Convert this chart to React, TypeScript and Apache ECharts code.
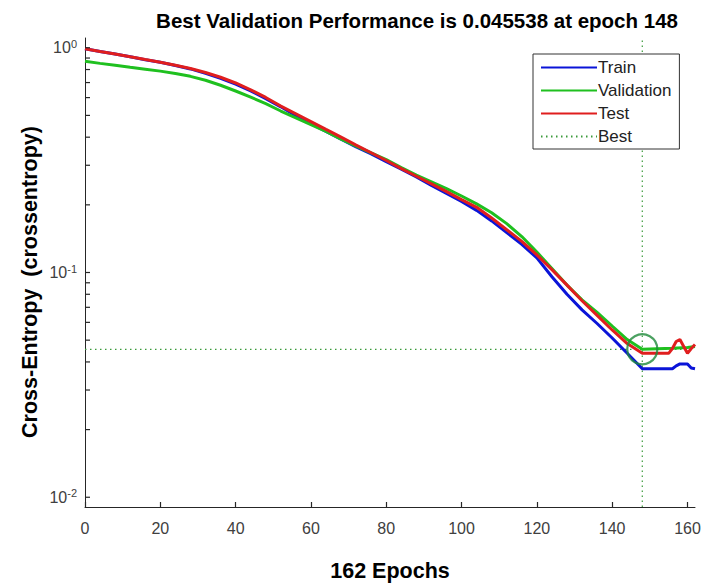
import React, { useEffect, useRef } from "react";
import * as echarts from "echarts";

const titleText = "Best Validation Performance is 0.045538 at epoch 148";
const xAxisTitle = "162 Epochs";
const yAxisTitle = "Cross-Entropy  (crossentropy)";

const xTicks = [0, 20, 40, 60, 80, 100, 120, 140, 160];
const yMajorTicks = [0.01, 0.1, 1];
const yTickValues = [
  0.01, 0.02, 0.03, 0.04, 0.05, 0.06, 0.07, 0.08, 0.09,
  0.1, 0.2, 0.3, 0.4, 0.5, 0.6, 0.7, 0.8, 0.9, 1,
];

const trainEpochs = [
  0, 4, 8, 12, 16, 20, 24, 28, 32, 36, 40, 44, 48, 52, 56, 60, 64, 68, 72, 76,
  80, 84, 88, 92, 96, 100, 104, 108, 112, 116, 120, 124, 128, 132, 136, 140, 144,
  148, 152, 156, 157, 158, 160, 161, 162,
];
const trainValues = [
  0.99, 0.963, 0.937, 0.911, 0.885, 0.862, 0.834, 0.805, 0.769, 0.731, 0.689,
  0.643, 0.594, 0.546, 0.498, 0.459, 0.424, 0.392, 0.362, 0.337, 0.311, 0.288,
  0.266, 0.244, 0.225, 0.207, 0.189, 0.1696, 0.1505, 0.1335, 0.1161, 0.0958,
  0.0800, 0.0682, 0.0593, 0.0511, 0.0437, 0.0373, 0.0373, 0.0373, 0.0384,
  0.0392, 0.0392, 0.0376, 0.0373,
];

const validationEpochs = [
  0, 4, 8, 12, 16, 20, 24, 28, 32, 36, 40, 44, 48, 52, 56, 60, 64, 68, 72, 76,
  80, 84, 88, 92, 96, 100, 104, 108, 112, 116, 120, 124, 128, 132, 136, 140, 144,
  148, 152, 156, 160, 162,
];
const validationValues = [
  0.87, 0.852, 0.836, 0.819, 0.803, 0.787, 0.768, 0.746, 0.717, 0.681, 0.642,
  0.603, 0.564, 0.523, 0.488, 0.455, 0.424, 0.392, 0.365, 0.341, 0.318, 0.293,
  0.271, 0.253, 0.236, 0.219, 0.202, 0.1845, 0.1650, 0.1445, 0.1233, 0.1041,
  0.0879, 0.0756, 0.0665, 0.0578, 0.0503, 0.045538, 0.0458, 0.046, 0.0464,
  0.0468,
];

const testEpochs = [
  0, 4, 8, 12, 16, 20, 24, 28, 32, 36, 40, 44, 48, 52, 56, 60, 64, 68, 72, 76,
  80, 84, 88, 92, 96, 100, 104, 108, 112, 116, 120, 124, 128, 132, 136, 140, 144,
  148, 152, 155, 156, 157, 158, 159, 160, 161, 162,
];
const testValues = [
  0.99, 0.963, 0.937, 0.911, 0.886, 0.862, 0.836, 0.808, 0.776, 0.739, 0.697,
  0.650, 0.601, 0.55, 0.508, 0.469, 0.433, 0.4, 0.369, 0.341, 0.315, 0.29,
  0.268, 0.248, 0.229, 0.211, 0.195, 0.1747, 0.155, 0.1376, 0.1197, 0.103,
  0.0879, 0.0749, 0.0645, 0.0555, 0.0483, 0.0437, 0.0437, 0.0437, 0.0459,
  0.0493, 0.0503, 0.0469, 0.0437, 0.0459, 0.0478,
];

const bestEpoch = 148;
const bestValue = 0.045538;
const xMin = 0;
const xMax = 162;
const yMin = 0.00905;
const yMax = 1.105;

const pairs = (xs: number[], ys: number[]) => xs.map((x, i) => [x, ys[i]]);

const FONT = "'Liberation Sans', Arial, Helvetica, sans-serif";
const AXIS_COLOR = "#262626";
const LABEL_COLOR = "#404040";

export default function App() {
  const ref = useRef<HTMLDivElement>(null);

  useEffect(() => {
    if (!ref.current) return;
    const chart = echarts.init(ref.current, null, { renderer: "svg" });
    const supMap: Record<string, string> = { "0.01": "-2", "0.1": "-1", "1": "0" };
    chart.setOption({
      animation: false,
      backgroundColor: "#ffffff",
      textStyle: { fontFamily: FONT },
      grid: { left: 85, right: 11, top: 38, bottom: 67, containLabel: false },
      graphic: [
        {
          type: "text",
          x: 417,
          y: 20,
          style: {
            text: titleText,
            fill: "#000000",
            font: `bold 20.5px ${FONT}`,
            align: "center",
            verticalAlign: "middle",
            textAlign: "center",
            textVerticalAlign: "middle",
          },
        },
        {
          type: "text",
          x: 30,
          y: 282,
          rotation: Math.PI / 2,
          style: {
            text: yAxisTitle,
            fill: "#000000",
            font: `bold 21.5px ${FONT}`,
            align: "center",
            verticalAlign: "middle",
            textAlign: "center",
            textVerticalAlign: "middle",
          },
        },
      ],
      legend: {
        orient: "vertical",
        left: 533,
        top: 54,
        padding: [5, 8, 4, 7],
        itemWidth: 56,
        itemHeight: 14,
        itemGap: 6,
        borderColor: "#333333",
        borderWidth: 1,
        borderRadius: 0,
        backgroundColor: "#ffffff",
        itemStyle: { opacity: 0, color: "rgba(0,0,0,0)", borderWidth: 0 },
        data: ["Train", "Validation", "Test", "Best"],
        textStyle: { fontSize: 17, color: "#222222", fontFamily: FONT, padding: [0, 0, 0, -4] },
      },
      xAxis: {
        type: "value",
        min: xMin,
        max: xMax,
        name: xAxisTitle,
        nameLocation: "middle",
        nameGap: 53,
        nameTextStyle: { fontSize: 21.5, fontWeight: "bold", color: "#000000", fontFamily: FONT },
        axisLine: { show: true, lineStyle: { color: AXIS_COLOR, width: 1 } },
        axisTick: { show: true, inside: true, length: 5, customValues: xTicks, lineStyle: { color: AXIS_COLOR, width: 1.2 } },
        axisLabel: { customValues: xTicks, fontSize: 16, color: LABEL_COLOR, margin: 13, fontFamily: FONT },
        splitLine: { show: false },
      },
      yAxis: {
        type: "log",
        logBase: 10,
        min: yMin,
        max: yMax,
        axisLine: { show: true, lineStyle: { color: AXIS_COLOR, width: 1 } },
        axisTick: { show: false },
        axisLabel: {
          customValues: yMajorTicks,
          margin: 8,
          color: LABEL_COLOR,
          fontFamily: FONT,
          formatter: (v: number) => {
            const key = String(Math.round(v * 1000) / 1000);
            return `{b|10}{s|${supMap[key] ?? ""}}`;
          },
          rich: {
            b: { fontSize: 16, color: LABEL_COLOR, fontFamily: FONT },
            s: { fontSize: 11, color: LABEL_COLOR, fontFamily: FONT, verticalAlign: "top", padding: [0, 0, 8, 0] },
          },
        },
        splitLine: { show: false },
      },
      series: [
        {
          type: "custom",
          silent: true,
          clip: false,
          data: yTickValues.map((v) => [xMin, v]),
          renderItem: (_params: any, api: any) => {
            const p = api.coord([api.value(0), api.value(1)]);
            return {
              type: "line",
              shape: { x1: p[0], y1: p[1], x2: p[0] + 5, y2: p[1] },
              style: { stroke: AXIS_COLOR, lineWidth: 1.2 },
            };
          },
          z: 7,
        },
        {
          name: "Train",
          type: "line",
          data: pairs(trainEpochs, trainValues),
          symbol: "none",
          lineStyle: { color: "#0a14d8", width: 3 },
          itemStyle: { color: "#0a14d8" },
          z: 3,
        },
        {
          name: "Validation",
          type: "line",
          data: pairs(validationEpochs, validationValues),
          symbol: "none",
          lineStyle: { color: "#1fc01f", width: 3 },
          itemStyle: { color: "#1fc01f" },
          z: 4,
        },
        {
          name: "Test",
          type: "line",
          data: pairs(testEpochs, testValues),
          symbol: "none",
          lineStyle: { color: "#e01e1e", width: 3 },
          itemStyle: { color: "#e01e1e" },
          z: 5,
        },
        {
          name: "Best",
          type: "line",
          data: [
            [bestEpoch, yMin],
            [bestEpoch, yMax],
          ],
          symbol: "none",
          lineStyle: { color: "#3a9a3a", width: 1.2, type: [1.5, 3.5] },
          itemStyle: { color: "#3a9a3a" },
          z: 2,
        },
        {
          name: "Best",
          type: "line",
          data: [
            [xMin, bestValue],
            [xMax, bestValue],
          ],
          symbol: "none",
          lineStyle: { color: "#3a9a3a", width: 1.2, type: [1.5, 3.5] },
          itemStyle: { color: "#3a9a3a" },
          z: 2,
        },
        {
          type: "scatter",
          data: [[bestEpoch, bestValue]],
          symbol: "circle",
          symbolSize: 30,
          itemStyle: { color: "rgba(0,0,0,0)", borderColor: "#1e8a3a", borderWidth: 2.2 },
          z: 6,
          silent: true,
        },
      ],
    });
    return () => chart.dispose();
  }, []);

  return <div ref={ref} style={{ width: 706, height: 587, position: "absolute", left: 0, top: 0 }} />;
}
